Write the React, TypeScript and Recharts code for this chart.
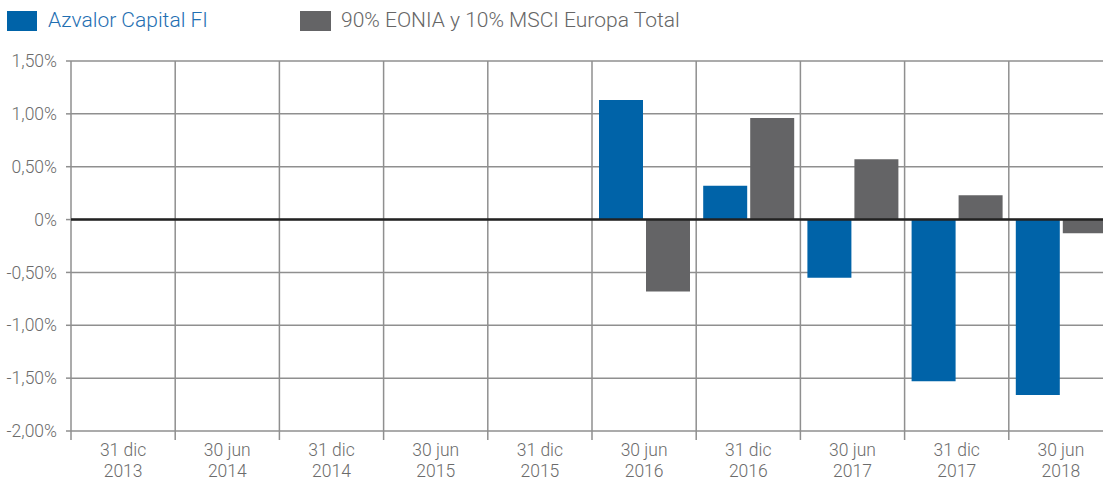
import React from 'react';
import { BarChart, Bar, XAxis, YAxis, CartesianGrid, ReferenceLine } from 'recharts';

const dayMonth = ['31 dic', '30 jun', '31 dic', '30 jun', '31 dic', '30 jun', '31 dic', '30 jun', '31 dic', '30 jun'];
const years = ['2013', '2014', '2014', '2015', '2015', '2016', '2016', '2017', '2017', '2018'];
const azvalor = [null, null, null, null, null, 1.13, 0.32, -0.55, -1.53, -1.66];
const benchmark = [null, null, null, null, null, -0.68, 0.96, 0.57, 0.23, -0.13];
const yTicks = [-2, -1.5, -1, -0.5, 0, 0.5, 1, 1.5];

const BLUE = '#0063a8';
const GRAY = '#646466';
const GRID = '#8f8f8f';
const TEXT = '#6b6b6b';
const FONT = 'Roboto, "Liberation Sans", sans-serif';

const chartData = dayMonth.map((d, i) => ({
    name: d + ' ' + years[i],
    day: d,
    year: years[i],
    azvalor: azvalor[i],
    benchmark: benchmark[i],
}));

const CHART_W = 1120;
const CHART_H = 480;
const MARGIN = { top: 61, right: 7, left: 0, bottom: 0 };
const Y_W = 71;
const X_H = 49;
const PLOT_W = CHART_W - MARGIN.right - MARGIN.left - Y_W;

const fmtPct = (v: number) => (v === 0 ? '0%' : v.toFixed(2).replace('.', ',') + '%');

const XTick = (props: any) => {
    const { x, y, index } = props;
    const band = PLOT_W / chartData.length;
    const left = x - band / 2;
    return (
        <g>
            <line x1={left} x2={left} y1={y} y2={y + 9} stroke={GRID} strokeWidth={1.5} />
            <text x={x} y={y + 25} textAnchor="middle" fill={TEXT} fontSize={17.5} fontWeight={300} fontFamily={FONT}>
                {chartData[index].day}
            </text>
            <text x={x} y={y + 46} textAnchor="middle" fill={TEXT} fontSize={17.5} fontWeight={300} fontFamily={FONT}>
                {chartData[index].year}
            </text>
        </g>
    );
};

export default function App() {
    return (
        <div style={{ position: 'absolute', left: 0, top: 0, width: 1103, height: 480, overflow: 'hidden', background: '#fff' }}>
            <div style={{ position: 'absolute', left: 7, top: 11, width: 30, height: 20, background: BLUE }} />
            <div style={{ position: 'absolute', left: 48, top: 6, fontFamily: FONT, fontWeight: 300, fontSize: 21, color: '#1f6fb2', lineHeight: '28px', whiteSpace: 'nowrap' }}>
                Azvalor Capital FI
            </div>
            <div style={{ position: 'absolute', left: 300, top: 11, width: 31, height: 20, background: GRAY }} />
            <div style={{ position: 'absolute', left: 341, top: 6, fontFamily: FONT, fontWeight: 300, fontSize: 21, color: '#666', lineHeight: '28px', whiteSpace: 'nowrap' }}>
                90% EONIA y 10% MSCI Europa Total
            </div>
            <BarChart width={CHART_W} height={CHART_H} data={chartData} margin={MARGIN} barSize={44} barGap={3}>
                <CartesianGrid
                    stroke={GRID}
                    strokeWidth={1.5}
                    verticalCoordinatesGenerator={({ offset }: any) =>
                        Array.from({ length: chartData.length + 1 }, (_, i) => offset.left + (i * offset.width) / chartData.length)
                    }
                />
                <XAxis
                    dataKey="name"
                    height={X_H}
                    axisLine={false}
                    tickLine={false}
                    tickSize={0}
                    tickMargin={0}
                    interval={0}
                    tick={<XTick />}
                />
                <YAxis
                    width={Y_W}
                    domain={[-2, 1.5]}
                    ticks={yTicks}
                    tickFormatter={fmtPct}
                    axisLine={false}
                    tickLine={{ stroke: GRID, strokeWidth: 1.5 }}
                    tickSize={5}
                    tickMargin={9}
                    tick={{ fill: TEXT, fontSize: 17.5, fontWeight: 300, fontFamily: FONT }}
                />
                <Bar dataKey="azvalor" fill={BLUE} isAnimationActive={false} />
                <Bar dataKey="benchmark" fill={GRAY} isAnimationActive={false} />
                <ReferenceLine y={0} stroke="#222" strokeWidth={2.5} />
            </BarChart>
        </div>
    );
}
